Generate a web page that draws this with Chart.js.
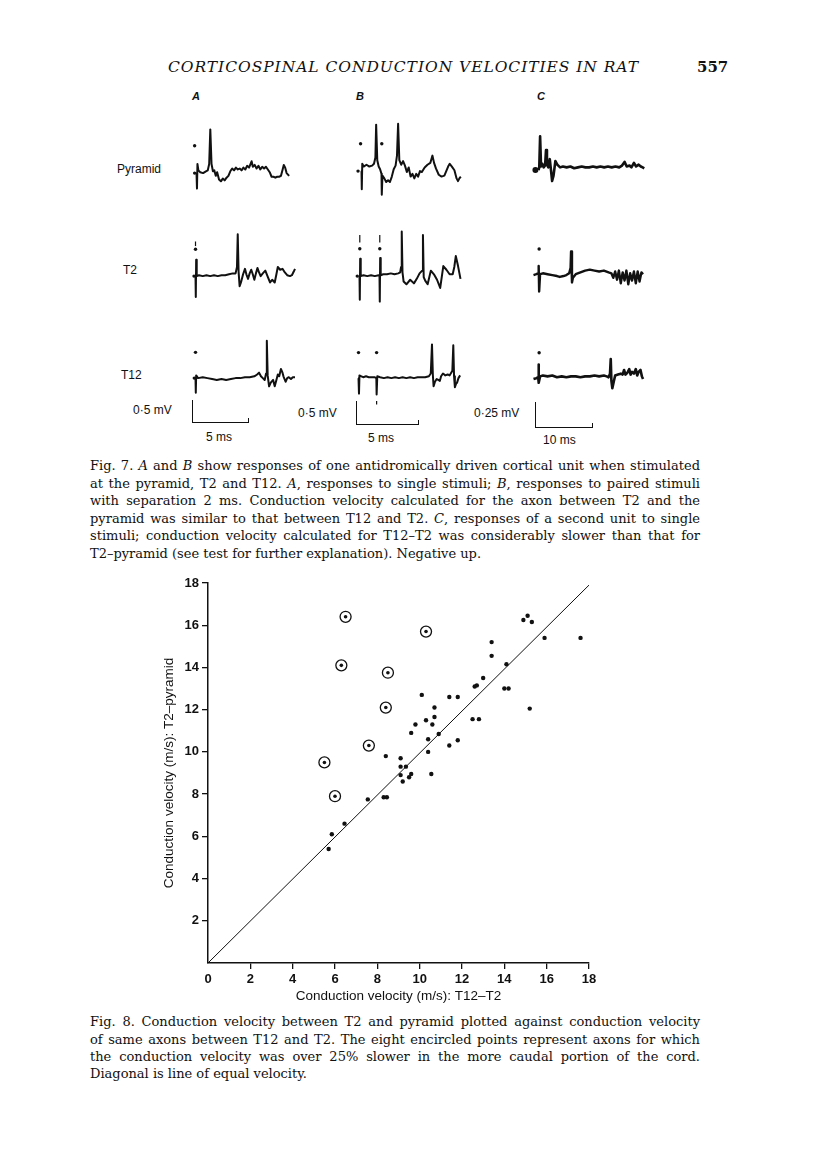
<!DOCTYPE html>
<html>
<head>
<meta charset="utf-8">
<script src="https://cdn.jsdelivr.net/npm/chart.js@4.4.1/dist/chart.umd.min.js"></script>
<style>
body { margin: 0; background: #fff; }
#page { position: relative; width: 816px; height: 1160px; overflow: hidden; background: #fff; color: #111; }
.t { position: absolute; white-space: nowrap; }
.sans { font-family: "Liberation Sans", Arial, sans-serif; }
.serif { font-family: "DejaVu Serif", serif; }
.cap { position: absolute; left: 90px; width: 610px; height: 17px; line-height: 17px;
       font-family: "DejaVu Serif", serif; font-size: 13px; text-align: justify; text-align-last: justify; }
.cap.last { text-align-last: left; }
canvas.tr { position: absolute; }
.bar { position: absolute; border-left: 1.5px solid #111; border-bottom: 1.5px solid #111; }
.bar::after { content: ""; position: absolute; right: 0; bottom: 0; width: 1.5px; height: 4px; background: #111; }
</style>
</head>
<body>
<div id="page">
  <div class="t serif" style="left:168px; top:58px; font-size:15.5px; font-style:italic; letter-spacing:0.95px;">CORTICOSPINAL CONDUCTION VELOCITIES IN RAT</div>
  <div class="t serif" style="left:697px; top:58px; font-size:15px; font-weight:bold;">557</div>

  <div class="t sans" style="left:192px; top:90px; font-size:11px; font-weight:bold; font-style:italic;">A</div>
  <div class="t sans" style="left:356px; top:90px; font-size:11px; font-weight:bold; font-style:italic;">B</div>
  <div class="t sans" style="left:537px; top:90px; font-size:11px; font-weight:bold; font-style:italic;">C</div>

  <div class="t sans" style="left:117px; top:162px; font-size:12px;">Pyramid</div>
  <div class="t sans" style="left:123px; top:263px; font-size:12px;">T2</div>
  <div class="t sans" style="left:121px; top:368px; font-size:12px;">T12</div>

  <div class="bar" style="left:192px; top:400px; width:56px; height:22px;"></div>
  <div class="bar" style="left:356px; top:401px; width:62px; height:23px;"></div>
  <div class="bar" style="left:535px; top:402px; width:57px; height:25px;"></div>
  <div class="t sans" style="left:133px; top:403px; font-size:12px;">0·5 mV</div>
  <div class="t sans" style="left:298px; top:406px; font-size:12px;">0·5 mV</div>
  <div class="t sans" style="left:474px; top:406px; font-size:12px;">0·25 mV</div>
  <div class="t sans" style="left:206px; top:430px; font-size:12px;">5 ms</div>
  <div class="t sans" style="left:368px; top:431px; font-size:12px;">5 ms</div>
  <div class="t sans" style="left:543px; top:433px; font-size:12px;">10 ms</div>

  <div id="traces"></div>

  <div class="cap" style="top:457px;">Fig. 7. <i>A</i> and <i>B</i> show responses of one antidromically driven cortical unit when stimulated</div>
  <div class="cap" style="top:475px;">at the pyramid, T2 and T12. <i>A</i>, responses to single stimuli; <i>B</i>, responses to paired stimuli</div>
  <div class="cap" style="top:492px;">with separation 2 ms. Conduction velocity calculated for the axon between T2 and the</div>
  <div class="cap" style="top:510px;">pyramid was similar to that between T12 and T2. <i>C</i>, responses of a second unit to single</div>
  <div class="cap" style="top:527px;">stimuli; conduction velocity calculated for T12–T2 was considerably slower than that for</div>
  <div class="cap last" style="top:545px;">T2–pyramid (see test for further explanation). Negative up.</div>

  <canvas id="fig8" width="480" height="440" style="position:absolute; left:140px; top:570px;"></canvas>

  <div class="cap" style="top:1013px;">Fig. 8. Conduction velocity between T2 and pyramid plotted against conduction velocity</div>
  <div class="cap" style="top:1031px;">of same axons between T12 and T2. The eight encircled points represent axons for which</div>
  <div class="cap" style="top:1048px;">the conduction velocity was over 25% slower in the more caudal portion of the cord.</div>
  <div class="cap last" style="top:1065px;">Diagonal is line of equal velocity.</div>
</div>

<script>
// Fig. 8 values (m/s)
const filledX = [14.9, 15.1, 15.3, 15.9, 17.6, 13.4, 13.4, 14.1, 13.0, 12.7, 12.6, 14.0, 14.2, 10.1, 11.4,
                 11.8, 15.2, 10.7, 10.7, 10.3, 10.6, 12.5, 12.8, 9.8, 9.6, 10.9, 10.4, 11.8, 11.4, 10.4,
                 8.4, 9.1, 9.1, 9.35, 9.1, 9.6, 9.2, 9.5, 10.55, 8.3, 8.45, 7.55, 6.45, 5.85, 5.7];
const filledY = [16.25, 16.45, 16.15, 15.4, 15.4, 15.2, 14.55, 14.15, 13.5, 13.15, 13.1, 13.0, 13.0, 12.7, 12.6,
                 12.6, 12.05, 12.1, 11.65, 11.5, 11.3, 11.55, 11.55, 11.3, 10.9, 10.85, 10.6, 10.55, 10.3, 10.0,
                 9.8, 9.7, 9.3, 9.3, 8.9, 8.95, 8.6, 8.8, 8.95, 7.85, 7.85, 7.75, 6.6, 6.1, 5.4];
const circledX = [6.5, 6.3, 8.5, 8.4, 7.6, 5.5, 6.0, 10.3];
const circledY = [16.4, 14.1, 13.75, 12.1, 10.3, 9.5, 7.9, 15.7];
const diagX = [0, 18];
const diagY = [0, 17.9];
const axisMax = 18;
const axisStep = 2;

// Fig. 7 traces: [time, amplitude], negative up on the original
const pyrA = [[0,0],[0.5,-17],[1,10],[2,3],[4,1],[7,0],[10,2],[12,3],[13.5,10],[14.7,48],[16,10],[17.5,2],[19,3],[20.5,-3],[22,1],[24,-7],[26,-9],[28,-6],[30,-8],[32,-5],[34,-3],[36,2],[38,5],[40,3],[42,6],[44,4],[46,5],[48,3],[50,6],[52,4],[54,8],[56,6],[58.7,13],[60,7],[62,9],[64,5],[66,8],[68,4],[70,7],[72,5],[74,7],[76,4],[78,1],[80,-4],[82,-4],[84,-5],[86,-4],[88,-4],[90,-3],[91.5,3],[93,9],[94.5,6],[96,0],[98.7,-3]];
const pyrAMarks = [[-2,30],[-2,0]];
const pyrB = [[0,0],[0.3,-20],[0.8,8],[2.3,5],[5.3,7],[8.3,5],[11.3,6],[13.3,8],[14.8,15],[15.6,51],[16.8,12],[18.3,5],[19.8,2],[21.3,-3],[21.6,-26],[22.3,-5],[24.3,-8],[26.3,-12],[28.3,-10],[30.3,-12],[32.3,-6],[34.3,2],[36.3,6],[37.8,17],[39,52],[40.3,12],[42.3,7],[44.3,11],[46.3,6],[48.3,-1],[50.3,4],[52.3,-6],[54.3,-3],[56.3,-8],[58.3,-3],[60.3,-6],[62.3,0],[64.3,-1],[67.3,4],[70.3,7],[73.3,9],[75.6,17],[77.3,9],[79.3,3],[82.3,-4],[85.3,-6],[88.3,-5],[90.3,0],[92.3,5],[94,8],[96.3,5],[99,1],[101.3,-8],[102.8,-11],[104.3,-8],[105.8,-6]];
const pyrBMarks = [[-3.7,0],[-1,30],[21.6,30]];
const pyrC = [[0,0],[0.8,3],[1.7,37],[2.7,4],[4,7],[5.5,3],[7,5],[8,22],[9,6],[10.5,3],[12,12],[13.5,-2],[14.5,-12],[16,-6],[18,10],[20,6],[23,3],[26,4],[30,3],[34,4],[38,2],[42,3],[46,4],[50,3],[54,3],[58,4],[62,3],[66,4],[70,3],[74,4],[78,3],[82,4],[86,3],[89,5],[91.7,9],[94,4],[97,5],[99,3],[101.7,8],[104,4],[106.7,6],[109,4],[111,3],[112.7,2]];
const pyrCMarks = [[-3.3,0]];
const t2A = [[0,0],[0.3,-23],[0.7,18],[1.3,0],[3.7,1],[7.7,0],[11.7,1],[15.7,0],[19.7,1],[23.7,0],[27.7,1],[31.7,1],[35.7,2],[39.7,3],[42.7,3],[44.2,10],[45,46],[45.9,5],[47,-11],[48.7,-6],[50.7,2],[52.7,8],[54.2,2],[56,-3],[57.7,3],[59.4,7],[61,2],[62.7,-4],[64.4,3],[66,9],[67.7,4],[69.4,0],[71.7,3],[74.4,6],[76.7,0],[79.4,-7],[81.7,-4],[84.4,-7],[86.2,2],[87.7,10],[90.2,7],[92.7,8],[95.2,4],[97.7,1],[100.7,0],[102.7,1],[104.7,5],[106,8]];
const t2AMarks = [[0,29.4],[-1.6,0]];
const t2ASegs = [[[0,33],[0,38]]];
const t2B = [[0,0],[0.3,-26],[0.7,19],[1.3,0],[4.3,1],[8.3,0],[12.3,1],[16.3,0],[20.3,1],[21.3,0],[21.6,-28],[22,20],[22.6,1],[25.3,2],[29.3,2],[33.3,3],[37.3,2],[41.3,3],[43.3,4],[44.3,10],[45,49],[45.8,4],[47,-6],[50,-9],[54,-4],[58,-8],[61,-3],[64,3],[66.8,6],[67.6,45],[68.4,-1],[70,-5],[72.6,-9],[76,6],[79.3,2],[82.6,-4],[86,-13],[89.3,11],[92.6,7],[96,2],[99.3,2],[101,10],[102.6,22],[105,11],[107.6,-3]];
const t2BMarks = [[0.3,30],[21.6,30],[-2.4,0]];
const t2BSegs = [[[0.3,37],[0.3,45]],[[21.6,37],[21.6,45]]];
const t2C = [[0,0],[3,1],[5,2],[5.5,10],[6,-18],[7,1],[10,2],[15,1],[20,0],[25,-1],[28,-2],[32,-1],[35,0],[38,2],[39.5,8],[40,26],[41,-8],[42,-3],[45,1],[50,3],[55,5],[60,6],[65,5],[70,4],[75,5],[80,3],[83,2],[85,-3],[87,4],[89,-5],[91,5],[93,-9],[95,3],[97,-6],[99,5],[101,-10],[103,2],[105,-6],[107,4],[109,-9],[111,4],[113,-7],[115,3],[116.7,1]];
const t2CMarks = [[6,28.7]];
const t12A = [[0,0],[0.3,-16],[0.7,3],[2.7,0],[7.7,1],[12.7,0],[17.7,-1],[22.7,-2],[27.7,-1],[32.7,-2],[37.7,-1],[42.7,0],[47.7,0],[52.7,1],[57.7,1],[62.7,2],[65.7,4],[67.7,6],[69.7,2],[71.7,0],[73.7,-2],[75.2,5],[76,41],[76.9,3],[78.4,-9],[80.2,-5],[82.7,-2],[84.4,-9],[86.2,-2],[87.7,4],[89.2,2],[91,10],[92.7,6],[93.7,2],[96,-4],[97.7,0],[99.4,1],[101.7,-1],[103.7,1],[106,1]];
const t12AMarks = [[0,28.3],[-1.3,0]];
const t12B = [[0,0],[0.5,-17],[1,3],[3,2],[5,1],[8,2],[11,1],[14,1],[17,1],[19,0],[19.3,-18],[20,2],[23,1],[27,0],[31,1],[35,0],[39,1],[43,0],[47,1],[51,0],[55,1],[59,0],[63,1],[67,1],[71,1],[75,2],[77,5],[78.3,37],[79.2,4],[80,-9],[81.5,-4],[83.3,-1],[85,-2],[86.7,-3],[88,2],[90,5],[92.5,3],[95,4],[97,3],[98.3,5],[100,8],[101,36],[101.8,2],[102.7,-10],[104,-6],[105,-5],[106.5,0],[108.3,3]];
const t12BMarks = [[0,28],[19.3,28]];
const t12BSegs = [[[19.3,-25],[19.3,-29]]];
const t12C = [[0,0],[3,1],[5,2],[5.3,16],[5.8,-4],[7,3],[10,4],[15,3],[20,4],[25,2],[30,3],[35,2],[40,3],[45,3],[50,2],[55,3],[60,3],[65,4],[70,3],[75,4],[78,3],[80,2],[81.5,6],[82.3,22],[83,-2],[84,-10],[85.5,-3],[87,4],[90,5],[93,6],[95,5],[96.5,10],[98,5],[100,7],[102,11],[103.5,5],[105,8],[107,6],[109,11],[110.5,4],[112,8],[114,10],[115.5,3],[116.7,0]];
const t12CMarks = [[6,29]];

// where each trace sits on the page
const traceLayout = [
    { pts: pyrA, marks: pyrAMarks, segs: [], left: 193, base: 173.5, lw: 2, r: 1.7 },
    { pts: pyrB, marks: pyrBMarks, segs: [], left: 357.7, base: 172.3, lw: 2, r: 1.7 },
    { pts: pyrC, marks: pyrCMarks, segs: [], left: 535, base: 171, lw: 2.6, r: 3 },
    { pts: t2A, marks: t2AMarks, segs: t2ASegs, left: 192.3, base: 276.7, lw: 2, r: 1.7 },
    { pts: t2B, marks: t2BMarks, segs: t2BSegs, left: 355.7, base: 277.3, lw: 2, r: 1.7 },
    { pts: t2C, marks: t2CMarks, segs: [], left: 530, base: 276, lw: 2.4, r: 1.7 },
    { pts: t12A, marks: t12AMarks, segs: [], left: 192.3, base: 379.3, lw: 2, r: 1.7 },
    { pts: t12B, marks: t12BMarks, segs: t12BSegs, left: 355, base: 379, lw: 2, r: 1.7 },
    { pts: t12C, marks: t12CMarks, segs: [], left: 530, base: 380, lw: 2.6, r: 1.7 }
];

const ink = '#111';
const sans = '"Liberation Sans", Arial, sans-serif';

function toXY(pairs) {
    return pairs.map(p => ({ x: p[0], y: p[1] }));
}

function desenharTraco(t) {
    const padX = 8, w = 130, h = 90, topAmp = 55;
    const cv = document.createElement('canvas');
    cv.className = 'tr';
    cv.width = w;
    cv.height = h;
    cv.style.left = (t.left - padX) + 'px';
    cv.style.top = (t.base - topAmp) + 'px';
    document.getElementById('traces').appendChild(cv);

    const datasets = [
        { data: toXY(t.pts), showLine: true, borderColor: ink, borderWidth: t.lw, pointRadius: 0, tension: 0, borderJoinStyle: 'round' },
        { data: toXY(t.marks), showLine: false, pointRadius: t.r, backgroundColor: ink, borderWidth: 0 }
    ];
    t.segs.forEach(s => {
        datasets.push({ data: toXY(s), showLine: true, borderColor: ink, borderWidth: 1.2, pointRadius: 0 });
    });

    new Chart(cv, {
        type: 'scatter',
        data: { datasets: datasets },
        options: {
            responsive: false,
            animation: false,
            layout: { padding: 0 },
            plugins: { legend: { display: false }, tooltip: { enabled: false } },
            scales: {
                x: { type: 'linear', display: false, min: -padX, max: w - padX },
                y: { type: 'linear', display: false, min: topAmp - h, max: topAmp }
            }
        }
    });
}

traceLayout.forEach(desenharTraco);

function pares(xs, ys) {
    return xs.map((x, i) => ({ x: x, y: ys[i] }));
}

const tickColor = c => (c.tick && c.tick.value === 0) ? 'rgba(0,0,0,0)' : ink;

new Chart(document.getElementById('fig8'), {
    type: 'scatter',
    data: {
        datasets: [
            { data: pares(diagX, diagY), showLine: true, borderColor: ink, borderWidth: 1, pointRadius: 0 },
            { data: pares(filledX, filledY), pointRadius: 2.2, backgroundColor: ink, borderWidth: 0 },
            { data: pares(circledX, circledY), pointRadius: 5.5, backgroundColor: 'rgba(0,0,0,0)', borderColor: ink, borderWidth: 1.3 },
            { data: pares(circledX, circledY), pointRadius: 1.8, backgroundColor: ink, borderWidth: 0 }
        ]
    },
    options: {
        responsive: false,
        animation: false,
        layout: { padding: { top: 13, right: 31, left: 0, bottom: 0 } },
        plugins: { legend: { display: false }, tooltip: { enabled: false } },
        scales: {
            x: {
                type: 'linear', min: 0, max: axisMax,
                afterFit: s => { s.height = 47; },
                border: { display: true, color: ink, width: 1.5 },
                grid: { drawOnChartArea: false, drawTicks: true, tickLength: 6, color: tickColor, lineWidth: 1.3 },
                ticks: { stepSize: axisStep, color: ink, padding: 3, maxRotation: 0, autoSkip: false,
                         font: { family: sans, size: 13, weight: 'bold' } },
                title: { display: true, text: 'Conduction velocity (m/s): T12–T2', color: ink,
                         font: { family: sans, size: 13.5 }, padding: { top: 6, bottom: 6 } }
            },
            y: {
                type: 'linear', min: 0, max: axisMax,
                afterFit: s => { s.width = 68; },
                border: { display: true, color: ink, width: 1.5 },
                grid: { drawOnChartArea: false, drawTicks: true, tickLength: 6, color: tickColor, lineWidth: 1.3 },
                ticks: { stepSize: axisStep, color: ink, padding: 3, autoSkip: false,
                         font: { family: sans, size: 13, weight: 'bold' },
                         callback: v => v === 0 ? '' : v },
                title: { display: true, text: 'Conduction velocity (m/s): T2–pyramid', color: ink,
                         font: { family: sans, size: 13.5 }, padding: { top: 21, bottom: 21 } }
            }
        }
    }
});
</script>
</body>
</html>
